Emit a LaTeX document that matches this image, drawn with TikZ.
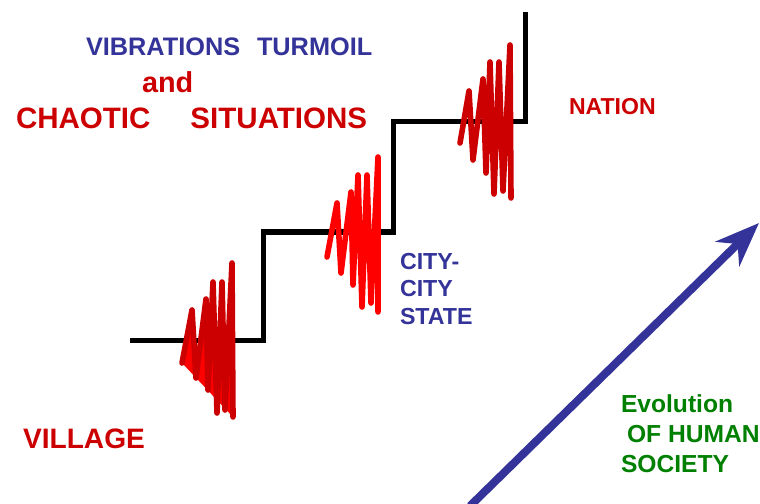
\documentclass[tikz,border=0pt]{standalone}
\usepackage{fontspec}
\setmainfont{Liberation Sans}
\usetikzlibrary{arrows.meta, positioning}
\definecolor{textblue}{HTML}{333399}
\definecolor{textred}{HTML}{CC0000}
\definecolor{textgreen}{HTML}{008000}
\definecolor{shakered}{HTML}{FF0000}
\tikzset{%
stair line/.style={line width=0.125cm, black, line join=miter},
shake line/.style={line width=0.14cm, line join=round, line cap=round},
label text/.style={anchor=base west, inner sep=0pt, outer sep=0pt},
block text/.style={anchor=north west, inner sep=0pt, outer sep=0pt, align=left},
}

\begin{document}
\begin{tikzpicture}[x=0.025cm, y=-0.025cm]
\useasboundingbox (0,0) rectangle (760,504);

% staircase
\draw [stair line] (130,340) -- (263,340) -- (263,232) -- (393,232)
      -- (393,122) -- (525,122) -- (525,12);

% first step
\draw [shake line, draw=textred, fill=shakered] (182,363) -- (192,310) -- (196,378) -- (206,299)
      -- (208,390) -- (213,282) -- (217,413) -- (222,282) -- (225,410) -- (232,263) -- (233,417);
% second step
\draw [shake line, shakered] (327,257) -- (337,203) -- (341,273) -- (351,192) -- (353,285)
      -- (358,175) -- (362,307) -- (367,175) -- (371,303) -- (378,157) -- (378,312);
% third step
\draw [shake line, textred] (460,143) -- (469,91) -- (473,160) -- (483,79) -- (486,173)
      -- (490,62) -- (494,194) -- (499,62) -- (503,191) -- (510,45) -- (511,198);

% titles
\node (vibrations) [label text, textblue, font=\bfseries\fontsize{18}{21}\selectfont] at (86,56)
      {VIBRATIONS\hspace{0.42cm}TURMOIL};
\node (and) [label text, textred, font=\bfseries\fontsize{20.5}{24}\selectfont] at (142,93) {and};
\node (chaotic) [label text, textred, font=\bfseries\fontsize{21}{24}\selectfont] at (16,129)
      {CHAOTIC\hspace{1.0cm}SITUATIONS};

% stages
\node (village) [label text, textred, font=\bfseries\fontsize{20}{24}\selectfont] at (23,448) {VILLAGE};
\node (city) [block text, textblue, font=\bfseries\fontsize{16.5}{19.6}\selectfont] at (400,253)
      {CITY-\\CITY\\STATE};
\node (nation) [label text, textred, font=\bfseries\fontsize{16.4}{20}\selectfont] at (569,115) {NATION};

% evolution arrow
\coordinate (evo-start) at (470,506);
\coordinate (evo-end) at (759,223);
\draw [textblue, line width=0.2cm, -{Stealth[length=1.1cm, width=0.85cm, inset=0.35cm]}]
      (evo-start) -- (evo-end);
\node (evolution) [block text, textgreen, font=\bfseries\fontsize{17.5}{21.3}\selectfont] at (621,395)
      {Evolution\\\hspace*{0.15cm}OF HUMAN\\SOCIETY};
\end{tikzpicture}
\end{document}
